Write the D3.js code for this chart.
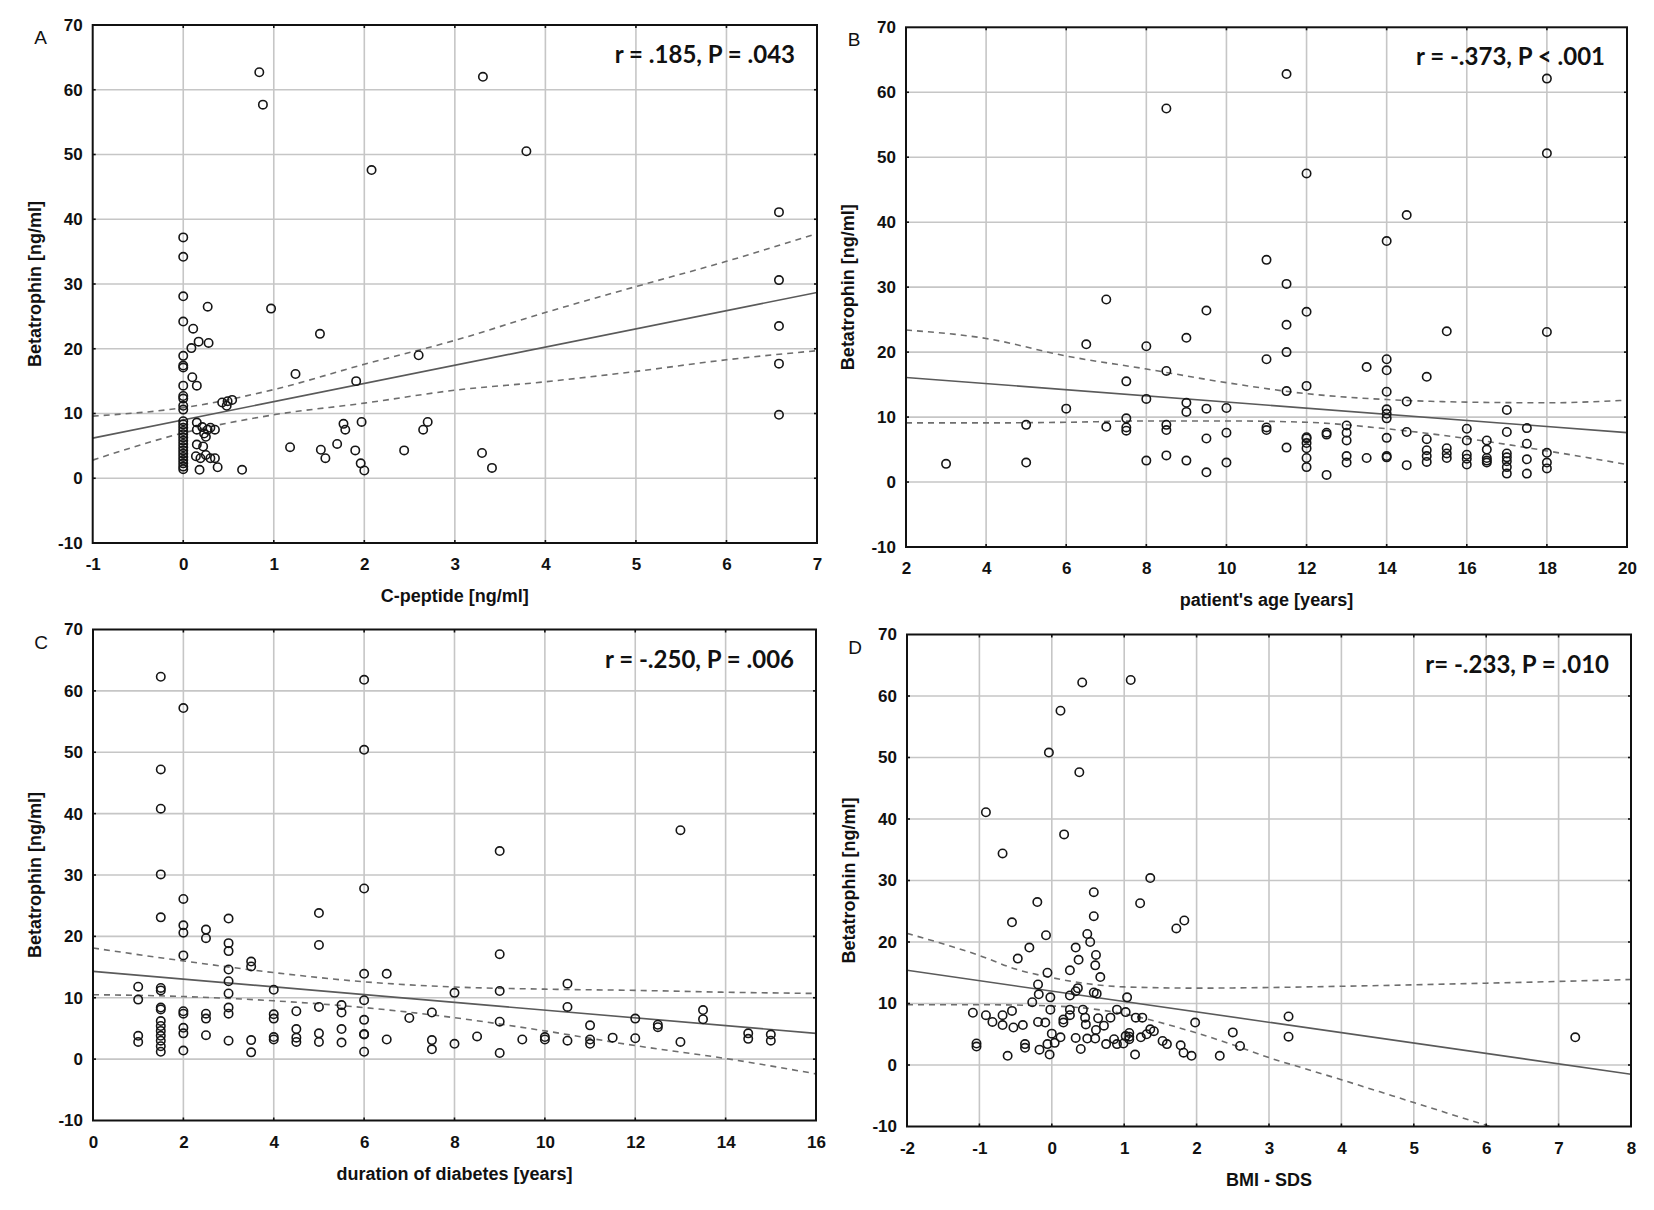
<!DOCTYPE html>
<html><head><meta charset="utf-8">
<script src="https://cdn.jsdelivr.net/npm/d3@7"></script>
<style>body{margin:0;background:#fff}svg{display:block}</style>
</head><body>
<svg id="chart" width="1654" height="1210"></svg>
<script>
// ---------- DATA ----------
const yTicks = [-10, 0, 10, 20, 30, 40, 50, 60, 70];
const xTicksA = [-1, 0, 1, 2, 3, 4, 5, 6, 7];
const xTicksB = [2, 4, 6, 8, 10, 12, 14, 16, 18, 20];
const xTicksC = [0, 2, 4, 6, 8, 10, 12, 14, 16];
const xTicksD = [-2, -1, 0, 1, 2, 3, 4, 5, 6, 7, 8];

const titles = ["A", "B", "C", "D"];
const xTitles = ["C-peptide [ng/ml]", "patient's age [years]", "duration of diabetes [years]", "BMI - SDS"];
const yTitle = "Betatrophin [ng/ml]";
const stats = ["r = .185, P = .043", "r = -.373, P < .001", "r = -.250, P = .006", "r= -.233, P = .010"];

// Panel A: C-peptide vs betatrophin
const pointsA = [
  [0,37.2],[0,34.2],[0,28.1],[0,24.2],[0,18.9],[0,17.4],[0,17.1],[0,14.3],[0,12.7],[0,12.3],[0,11.2],[0,10.6],
  [0,8.8],[0,8.3],[0,7.8],[0,7.3],[0,6.8],[0,6.3],[0,5.8],[0,5.3],[0,4.8],[0,4.3],[0,3.8],[0,3.3],[0,2.8],[0,2.3],[0,1.8],[0,1.4],
  [0.84,62.7],[0.88,57.7],[3.31,62.0],[3.79,50.5],[2.08,47.6],[6.58,41.1],[6.58,30.6],[6.58,23.5],[6.58,17.7],[6.58,9.8],
  [0.27,26.5],[0.97,26.2],[0.11,23.1],[0.17,21.1],[0.28,20.9],[0.09,20.1],[0.1,15.6],[0.15,14.3],[1.51,22.3],[2.6,19.0],
  [1.24,16.1],[1.91,15.0],[0.43,11.7],[0.49,11.9],[0.54,12.1],[0.48,11.2],[0.15,8.6],[0.21,7.9],[0.27,7.5],[0.30,7.8],
  [0.35,7.5],[0.15,7.5],[0.23,6.9],[0.25,6.4],[0.15,5.2],[0.22,4.9],[0.25,3.6],[0.14,3.4],[0.19,3.1],[0.3,3.1],[0.35,3.1],
  [0.38,1.7],[0.18,1.3],[0.65,1.3],[1.18,4.8],[1.52,4.4],[1.57,3.1],[1.7,5.3],[1.77,8.4],[1.79,7.5],[1.97,8.7],[1.9,4.3],
  [1.96,2.3],[2.0,1.2],[2.44,4.3],[2.65,7.5],[2.7,8.7],[3.3,3.9],[3.41,1.6]
];
const fitA = [[-1,6.2],[7,28.7]];
const upperA = [[-1,9.6],[0,10.9],[1,13.7],[2,17.6],[3,21.3],[4,25.6],[5,29.6],[6,33.5],[7,37.8]];
const lowerA = [[-1,2.8],[0,7.0],[1,9.8],[2,11.6],[3,13.6],[4,14.9],[5,16.5],[6,18.3],[7,19.7]];

// Panel B: age vs betatrophin
const pointsB = [
  [3,2.8],[5,8.8],[5,3.0],[6,11.3],[6.5,21.2],[7,28.1],[7,8.5],[7.5,15.5],[7.5,9.8],[7.5,8.4],[7.5,7.9],[8,20.9],[8,12.8],[8,3.3],
  [8.5,57.5],[8.5,17.1],[8.5,8.8],[8.5,8.0],[8.5,4.1],[9,22.2],[9,12.2],[9,10.8],[9,3.3],[9.5,26.4],[9.5,11.3],[9.5,6.7],[9.5,1.5],
  [10,11.4],[10,7.6],[10,3.0],[11,34.2],[11,18.9],[11,8.4],[11,8.0],[11.5,62.8],[11.5,30.5],[11.5,24.2],[11.5,20.0],[11.5,14.0],[11.5,5.3],
  [12,47.5],[12,26.2],[12,14.8],[12,6.9],[12,6.7],[12,6.0],[12,5.2],[12,3.7],[12,2.3],[12.5,7.6],[12.5,7.3],[12.5,1.1],
  [13,8.7],[13,7.6],[13,6.4],[13,4.0],[13,3.0],[13.5,17.7],[13.5,3.7],[14,37.1],[14,18.9],[14,17.2],[14,13.9],[14,11.2],[14,10.5],
  [14,9.8],[14,6.8],[14,4.0],[14,3.8],[14.5,41.1],[14.5,12.4],[14.5,7.7],[14.5,2.6],[15,16.2],[15,6.6],[15,4.9],[15,4.0],[15,3.1],
  [15.5,23.2],[15.5,5.2],[15.5,4.4],[15.5,3.7],[16,8.2],[16,6.4],[16,4.2],[16,3.6],[16,2.7],[16.5,6.4],[16.5,5.0],[16.5,3.7],[16.5,3.3],
  [16.5,3.0],[17,11.1],[17,7.7],[17,4.4],[17,3.8],[17,3.2],[17,2.3],[17,1.3],[17.5,8.3],[17.5,5.9],[17.5,3.5],[17.5,1.3],
  [18,62.1],[18,50.6],[18,23.1],[18,4.5],[18,3.0],[18,2.1]
];
const fitB = [[2,16.1],[20,7.6]];
const upperB = [[2,23.4],[4,22.1],[6,19.4],[8,17.4],[10,15.3],[12,13.6],[14,12.7],[16,12.3],[18,12.2],[20,12.6]];
const lowerB = [[2,9.1],[4,9.1],[6,9.2],[8,9.4],[10,9.4],[12,9.2],[14,8.2],[16,6.7],[18,4.8],[20,2.7]];

// Panel C: duration of diabetes vs betatrophin
const pointsC = [
  [1,11.8],[1,9.7],[1,3.8],[1,2.8],
  [1.5,62.3],[1.5,47.2],[1.5,40.8],[1.5,30.1],[1.5,23.1],[1.5,11.6],[1.5,11.2],[1.5,8.4],[1.5,8.1],[1.5,6.2],[1.5,5.4],[1.5,4.6],
  [1.5,3.8],[1.5,3.0],[1.5,2.1],[1.5,1.2],
  [2,57.2],[2,26.1],[2,21.8],[2,20.6],[2,16.9],[2,7.8],[2,7.4],[2,5.1],[2,4.2],[2,1.4],
  [2.5,21.1],[2.5,19.7],[2.5,7.4],[2.5,6.6],[2.5,3.9],
  [3,22.9],[3,18.9],[3,17.6],[3,14.6],[3,12.7],[3,10.7],[3,8.4],[3,7.4],[3,3.0],
  [3.5,15.9],[3.5,15.1],[3.5,3.1],[3.5,1.1],
  [4,11.3],[4,7.3],[4,6.6],[4,3.6],[4,3.2],
  [4.5,7.8],[4.5,4.9],[4.5,3.5],[4.5,2.8],
  [5,23.8],[5,18.6],[5,8.5],[5,4.2],[5,2.8],
  [5.5,8.8],[5.5,7.6],[5.5,4.9],[5.5,2.7],
  [6,61.8],[6,50.4],[6,27.8],[6,13.9],[6,9.6],[6,6.4],[6,4.1],[6,4.0],[6,1.2],
  [6.5,13.9],[6.5,3.2],[7,6.7],[7.5,7.6],[7.5,3.1],[7.5,1.6],[8,10.8],[8,2.5],[8.5,3.7],
  [9,33.9],[9,17.1],[9,11.1],[9,6.1],[9,1.0],
  [9.5,3.2],[10,3.6],[10,3.2],[10.5,12.3],[10.5,8.5],[10.5,3.0],[11,5.5],[11,3.2],[11,2.5],[11.5,3.5],
  [12,6.6],[12,3.4],[12.5,5.6],[12.5,5.2],[13,37.3],[13,2.8],[13.5,8.0],[13.5,6.5],[14.5,4.2],[14.5,3.3],[15,4.0],[15,3.0]
];
const fitC = [[0,14.3],[16,4.2]];
const upperC = [[0,18.1],[2,16.0],[4,14.1],[6,12.6],[8,11.75],[10,11.4],[12,11.2],[14,10.9],[16,10.7]];
const lowerC = [[0,10.5],[2,10.2],[4,9.5],[6,8.4],[8,6.75],[10,4.6],[12,2.2],[14,0.1],[16,-2.4]];

// Panel D: BMI-SDS vs betatrophin
const pointsD = [
  [1.09,62.6],[0.42,62.2],[0.12,57.6],[-0.04,50.8],[0.38,47.6],[-0.91,41.1],[0.17,37.5],[-0.68,34.4],[1.36,30.4],[0.58,28.1],
  [-0.2,26.5],[1.22,26.3],[0.58,24.2],[-0.55,23.2],[1.83,23.5],[1.72,22.2],[-0.08,21.1],[0.49,21.3],[0.53,20.0],[0.33,19.1],
  [-0.31,19.1],[0.61,17.9],[0.37,17.1],[-0.47,17.3],[0.6,16.2],[0.25,15.4],[-0.06,15.0],[0.67,14.3],[0.36,12.5],[-0.19,13.1],
  [-0.18,11.5],[0.58,11.8],[0.62,11.6],[1.04,11.0],[0.25,11.3],[-0.02,11.0],[-0.27,10.2],[0.25,9.0],[-0.02,9.0],[-1.09,8.5],
  [-0.91,8.1],[-0.68,8.1],[-0.55,8.8],[0.43,9.0],[0.9,9.0],[1.98,6.9],[3.27,7.9],[3.27,4.6],[2.5,5.3],[2.6,3.1],[2.32,1.5],
  [1.93,1.5],[1.82,2.0],[1.78,3.2],[1.53,3.9],[1.59,3.4],[1.41,5.5],[1.36,5.8],[1.31,5.0],[1.23,4.5],[1.15,1.7],[1.07,5.2],
  [1.07,4.6],[1.07,4.2],[1.02,4.7],[0.99,3.5],[0.9,3.4],[0.86,4.2],[0.81,7.7],[0.72,6.4],[0.75,3.4],[0.64,7.6],[0.61,5.7],
  [0.6,4.3],[0.49,4.3],[0.46,7.7],[0.47,6.6],[0.4,2.6],[0.33,4.4],[0.25,8.1],[0.16,7.4],[0.16,6.9],[0.12,4.5],[0.04,3.6],
  [0.0,5.1],[-0.03,1.7],[-0.09,6.9],[-0.06,3.4],[-0.17,2.5],[-0.19,7.0],[-0.4,6.5],[-0.53,6.1],[-0.68,6.5],[-0.82,7.0],
  [-0.61,1.5],[-0.37,3.4],[-0.37,2.8],[-1.04,3.5],[-1.04,3.0],[1.16,7.7],[1.25,7.7],[1.02,8.6],[0.33,12.0],[7.23,4.5]
];
const fitD = [[-2,15.4],[8,-1.5]];
const upperD = [[-2,21.4],[-1,17.8],[-0.5,15.6],[0,14.2],[0.5,13.2],[1,12.7],[2,12.5],[3,12.6],[4,12.8],[6,13.3],[8,13.9]];
const lowerD = [[-2,9.8],[-1,9.8],[0,9.6],[0.5,9.2],[1,8.3],[1.5,6.9],[2,5.2],[2.5,3.3],[3,1.2],[3.5,-0.6],[4,-2.4],[5,-6.1],[6,-9.8],[6.5,-11.6]];

// ---------- LAYOUT ----------
const layout = [
  {box:[92.7, 25, 817, 543], xDomain:[-1,7], xTicks:xTicksA, pts:pointsA, fit:fitA, up:upperA, lo:lowerA},
  {box:[906, 27.3, 1627, 547], xDomain:[2,20], xTicks:xTicksB, pts:pointsB, fit:fitB, up:upperB, lo:lowerB},
  {box:[93, 629.5, 816, 1120.5], xDomain:[0,16], xTicks:xTicksC, pts:pointsC, fit:fitC, up:upperC, lo:lowerC},
  {box:[907, 634.5, 1631, 1126.5], xDomain:[-2,8], xTicks:xTicksD, pts:pointsD, fit:fitD, up:upperD, lo:lowerD}
];

const svg = d3.select("#chart");
svg.append("rect").attr("width",1654).attr("height",1210).attr("fill","#ffffff");
const defs = svg.append("defs");
const fontAxis = "'Liberation Sans', Arial, sans-serif";
const plainFmt = d => String(d);

layout.forEach((p, i) => {
  const [x0, y0, x1, y1] = p.box;
  const x = d3.scaleLinear().domain(p.xDomain).range([x0, x1]);
  const y = d3.scaleLinear().domain([-10, 70]).range([y1, y0]);
  const g = svg.append("g");
  const clipId = "clip" + i;
  defs.append("clipPath").attr("id", clipId).append("rect")
    .attr("x", x0).attr("y", y0).attr("width", x1 - x0).attr("height", y1 - y0);

  // grid
  g.append("g").selectAll("line").data(p.xTicks.slice(1, -1)).join("line")
    .attr("x1", d => x(d)).attr("x2", d => x(d)).attr("y1", y0).attr("y2", y1)
    .attr("stroke", "#c6c6c6").attr("stroke-width", 1.6);
  g.append("g").selectAll("line").data(yTicks.slice(1, -1)).join("line")
    .attr("y1", d => y(d)).attr("y2", d => y(d)).attr("x1", x0).attr("x2", x1)
    .attr("stroke", "#c6c6c6").attr("stroke-width", 1.6);

  // regression + confidence band
  const lineGen = d3.line().x(d => x(d[0])).y(d => y(d[1]));
  const curveGen = d3.line().x(d => x(d[0])).y(d => y(d[1])).curve(d3.curveMonotoneX);
  const lg = g.append("g").attr("clip-path", `url(#${clipId})`);
  lg.append("path").attr("d", lineGen(p.fit)).attr("fill", "none")
    .attr("stroke", "#5a5a5a").attr("stroke-width", 1.6);
  [p.up, p.lo].forEach(band => {
    lg.append("path").attr("d", curveGen(band)).attr("fill", "none")
      .attr("stroke", "#6e6e6e").attr("stroke-width", 1.6).attr("stroke-dasharray", "6,5");
  });

  // points
  g.append("g").selectAll("circle").data(p.pts).join("circle")
    .attr("cx", d => x(d[0])).attr("cy", d => y(d[1])).attr("r", 4.2)
    .attr("fill", "none").attr("stroke", "#161616").attr("stroke-width", 1.6);

  // frame
  g.append("rect").attr("x", x0).attr("y", y0).attr("width", x1 - x0).attr("height", y1 - y0)
    .attr("fill", "none").attr("stroke", "#111").attr("stroke-width", 2);

  // small inner ticks
  const tk = g.append("g").attr("stroke", "#111").attr("stroke-width", 1.6);
  p.xTicks.slice(1, -1).forEach(d => {
    tk.append("line").attr("x1", x(d)).attr("x2", x(d)).attr("y1", y1).attr("y2", y1 - 3);
    tk.append("line").attr("x1", x(d)).attr("x2", x(d)).attr("y1", y0).attr("y2", y0 + 3);
  });
  yTicks.slice(1, -1).forEach(d => {
    tk.append("line").attr("y1", y(d)).attr("y2", y(d)).attr("x1", x0).attr("x2", x0 + 3);
    tk.append("line").attr("y1", y(d)).attr("y2", y(d)).attr("x1", x1).attr("x2", x1 - 3);
  });

  // axes labels via d3 axis
  const ax = g.append("g").attr("transform", `translate(0,${y1})`)
    .call(d3.axisBottom(x).tickValues(p.xTicks).tickSize(0).tickPadding(15).tickFormat(plainFmt));
  const ay = g.append("g").attr("transform", `translate(${x0},0)`)
    .call(d3.axisLeft(y).tickValues(yTicks).tickSize(0).tickPadding(10).tickFormat(plainFmt));
  [ax, ay].forEach(a => {
    a.select(".domain").remove();
    a.selectAll("text").attr("font-family", fontAxis).attr("font-size", 17)
      .attr("font-weight", "bold").attr("fill", "#111");
  });

  // axis titles
  g.append("text").attr("x", (x0 + x1) / 2).attr("y", y1 + 59).attr("text-anchor", "middle")
    .attr("font-family", fontAxis).attr("font-size", 18).attr("font-weight", "bold").attr("fill", "#111")
    .text(xTitles[i]);
  g.append("text").attr("transform", `translate(${x0 - 52},${(y0 + y1) / 2}) rotate(-90)`)
    .attr("text-anchor", "middle")
    .attr("font-family", fontAxis).attr("font-size", 18).attr("font-weight", "bold").attr("fill", "#111")
    .text(yTitle);

  // panel letter
  g.append("text").attr("x", x0 - 52).attr("y", y0 + 19).attr("text-anchor", "middle")
    .attr("font-family", fontAxis).attr("font-size", 19).attr("fill", "#111").text(titles[i]);

  // stats text
  g.append("text").attr("x", x1 - 22).attr("y", y0 + 38).attr("text-anchor", "end")
    .attr("font-family", "Lato, 'Open Sans', sans-serif").attr("font-size", 24).attr("font-weight", "bold")
    .attr("fill", "#111").text(stats[i]);
});
</script>
</body></html>
